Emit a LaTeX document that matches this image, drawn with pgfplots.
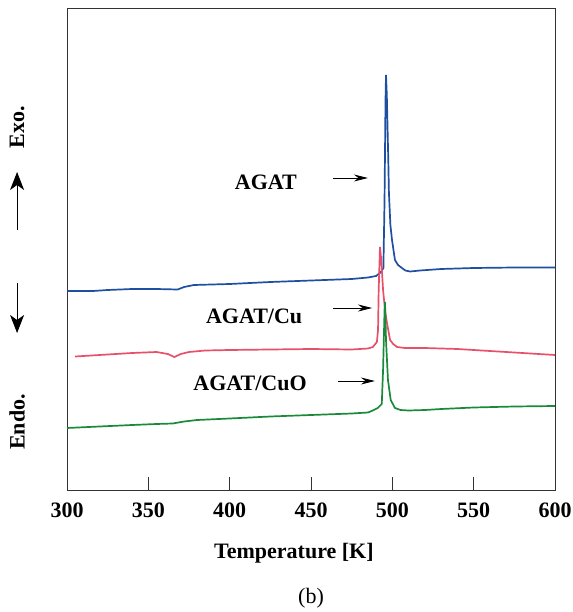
\documentclass[border=0pt]{standalone}
\usepackage{fontspec}
\setmainfont{Liberation Serif}
\usepackage{pgfplots}
\pgfplotsset{compat=1.18}
\usetikzlibrary{arrows.meta}
\definecolor{cblue}{HTML}{1F4FA0}
\definecolor{cred}{HTML}{E8506A}
\definecolor{cgreen}{HTML}{1A8A3A}
\begin{document}
\begin{tikzpicture}
\begin{axis}[
  width=244pt, height=241pt, scale only axis,
  xmin=300, xmax=600, ymin=0, ymax=482,
  xtick={300,350,...,600}, ytick=\empty,
  xtick pos=bottom, tick align=inside, major tick length=6.5pt,
  axis line style={black!80, line width=0.5pt},
  every tick/.style={black!80, line width=0.5pt},
  /pgf/number format/assume math mode=true,
  xticklabel style={font=\fontsize{11}{13}\selectfont\bfseries, yshift=-3pt},
  clip=false,
]
\addplot[cblue, line width=0.85pt] coordinates {
(300,199) (316,199) (325,200) (340,201) (355,201) (368,200.5) (372,203) (378,205)
(400,206) (425,208) (450,209.5) (475,211) (485,212.5) (490,214) (493,218) (494.5,222)
(495.2,290) (495.8,390) (496.1,415) (496.6,395) (497.5,330) (497.9,297) (498.8,265)
(499.8,250) (501.6,230) (503.5,225) (505.9,222) (508,219.5) (510.9,218.5) (517,219.5)
(530,221) (550,222) (575,222.5) (600,222.5)};
\addplot[cred, line width=0.85pt] coordinates {
(305,133.5) (320,135) (340,137) (355,138) (362,136) (366,133) (370,136) (375,138)
(385,139.5) (400,140) (425,140.5) (450,141) (475,140.5) (485,141.5) (488,143)
(490.5,148) (491.2,160) (491.6,200) (492.4,243) (493.2,230) (494.3,200) (495.5,180)
(496.7,167) (498.6,150) (500.5,146) (502.9,143) (507.8,142) (520,142) (540,141)
(560,139) (580,137) (600,135)};
\addplot[cgreen, line width=0.85pt] coordinates {
(300,62) (320,63.5) (340,65) (355,66) (365,66.5) (372,68.5) (380,70) (400,71.5)
(425,73.5) (450,75) (475,76.5) (485,77.5) (488,79.5) (491,82) (493.5,86) (494.3,120)
(495.2,180) (495.5,188) (496.1,150) (497.3,110) (499,90) (501.6,82) (505,80) (510,79.5)
(520,80) (530,81) (550,82.5) (575,83.5) (600,84)};
% curve labels
\node[font=\fontsize{11}{13}\selectfont\bfseries] at (axis cs:422.3,308) {AGAT};
\draw[-{Stealth[length=7pt,width=3.5pt]}, line width=0.4pt] (axis cs:463.5,312) -- (axis cs:485,312);
\node[font=\fontsize{11}{13}\selectfont\bfseries] at (axis cs:415,174) {AGAT/Cu};
\draw[-{Stealth[length=7pt,width=3.5pt]}, line width=0.4pt] (axis cs:463.5,182) -- (axis cs:487.5,182);
\node[font=\fontsize{11}{13}\selectfont\bfseries] at (axis cs:412.5,107) {AGAT/CuO};
\draw[-{Stealth[length=7pt,width=3.5pt]}, line width=0.4pt] (axis cs:466.6,109) -- (axis cs:489.3,109);
% y label
\node[rotate=90, font=\fontsize{11}{13}\selectfont\bfseries] at (axis cs:269.3,363) {Exo.};
\draw[-{Stealth[length=9pt,width=7pt,inset=2.5pt]}, line width=0.45pt] (axis cs:269.3,260) -- (axis cs:269.3,318);
\draw[-{Stealth[length=9pt,width=7pt,inset=2.5pt]}, line width=0.45pt] (axis cs:269.3,207) -- (axis cs:269.3,157);
\node[rotate=90, font=\fontsize{11}{13}\selectfont\bfseries] at (axis cs:269.3,68) {Endo.};
% x label and caption
\node[font=\fontsize{11}{13}\selectfont\bfseries] at (axis cs:439.5,-63) {Temperature [K]};
\node[font=\fontsize{11}{13}\selectfont] at (axis cs:450,-108) {(b)};
\coordinate (bl) at (axis cs:258.8,-122);
\coordinate (tr) at (axis cs:611.06,490);
\end{axis}
\pgfresetboundingbox
\useasboundingbox (bl) rectangle (tr);
\end{tikzpicture}
\end{document}
